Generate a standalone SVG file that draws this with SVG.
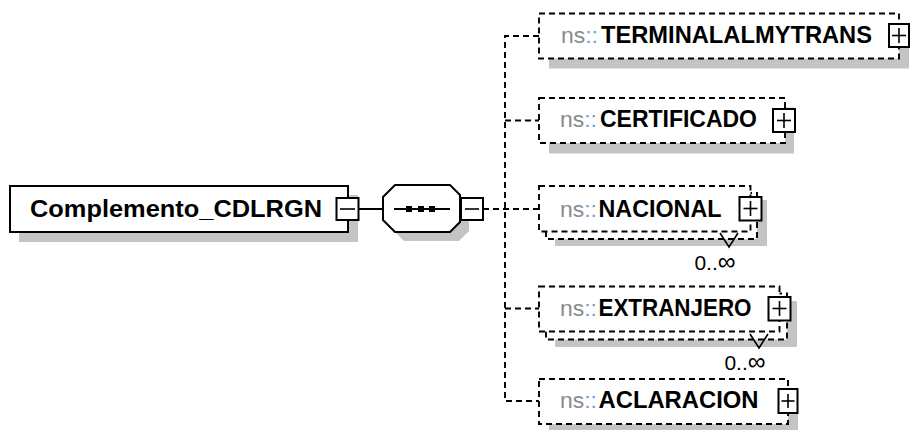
<svg xmlns="http://www.w3.org/2000/svg" width="914" height="430" viewBox="0 0 914 430">
<style>
.bg{fill:#fff}
.sh{fill:#c4c4c4}
.box{fill:#fff;stroke:#000;stroke-width:2}
.dbox{fill:#fff;stroke:#000;stroke-width:1.9;stroke-dasharray:6 4}
.btn{fill:#fff;stroke:#000;stroke-width:2}
.conn{fill:none;stroke:#000;stroke-width:1.9;stroke-dasharray:6 4}
.solid{fill:none;stroke:#000;stroke-width:2}
.thin{fill:none;stroke:#000;stroke-width:1.6}
.ns{font-family:"Liberation Sans",Arial,sans-serif;font-size:22px;fill:#8a8a8a}
.col{fill:#6f9fdc}
.nm{font-family:"Liberation Sans",Arial,sans-serif;font-size:23px;font-weight:bold;fill:#000}
.root{font-family:"Liberation Sans",Arial,sans-serif;font-size:24px;font-weight:bold;fill:#000}
.occ{font-family:"Liberation Sans",Arial,sans-serif;font-size:21px;fill:#000}
.inf{font-size:25px}
</style>
<rect class="bg" x="0" y="0" width="914" height="430"/>

<g id="connectors">
  <line class="solid" x1="358" y1="209" x2="383" y2="209"/>
  <line class="conn" x1="483" y1="209" x2="539" y2="209"/>
  <path class="conn" d="M539 36 H505 V401 H539"/>
  <line class="conn" x1="505" y1="120.5" x2="539" y2="120.5"/>
  <line class="conn" x1="505" y1="308.5" x2="539" y2="308.5"/>
</g>

<g id="root">
  <rect class="sh" x="19" y="195" width="339" height="47"/>
  <rect class="box" x="10" y="186" width="338" height="46"/>
  <text class="root" x="30" y="217" textLength="292" lengthAdjust="spacingAndGlyphs">Complemento_CDLRGN</text>
  <rect class="btn" x="336.5" y="198" width="22" height="22"/>
  <line class="thin" x1="340" y1="209" x2="355" y2="209"/>
</g>

<g id="sequence">
  <polygon class="sh" points="404,194 459,194 469,204 469,231 459,241 404,241 392,229 392,206"/>
  <polygon class="box" points="395,185 450,185 460,195 460,222 450,232 395,232 383,220 383,197"/>
  <line class="solid" x1="394" y1="209" x2="450" y2="209"/>
  <rect x="406" y="206" width="6" height="6" fill="#000"/>
  <rect x="418" y="206" width="6" height="6" fill="#000"/>
  <rect x="429" y="206" width="6" height="6" fill="#000"/>
  <rect class="btn" x="461" y="198" width="22" height="22"/>
  <line class="thin" x1="465" y1="209" x2="479" y2="209"/>
</g>

<g id="TERMINALALMYTRANS">
  <rect class="sh" x="549" y="23.5" width="360" height="45"/>
  <rect class="dbox" x="539" y="13.5" width="360" height="45"/>
  <text class="ns" x="561" y="43" textLength="37" lengthAdjust="spacingAndGlyphs">ns<tspan class="col">::</tspan></text>
  <text class="nm" x="601" y="43" textLength="271" lengthAdjust="spacingAndGlyphs">TERMINALALMYTRANS</text>
  <rect class="btn" x="889" y="24" width="20" height="23"/>
  <line class="thin" x1="892" y1="35.5" x2="906" y2="35.5"/>
  <line class="thin" x1="899" y1="28" x2="899" y2="43"/>
</g>

<g id="CERTIFICADO">
  <rect class="sh" x="549" y="107.5" width="245" height="46"/>
  <rect class="dbox" x="539" y="98" width="246" height="45"/>
  <text class="ns" x="560" y="127" textLength="37" lengthAdjust="spacingAndGlyphs">ns<tspan class="col">::</tspan></text>
  <text class="nm" x="600" y="127" textLength="157" lengthAdjust="spacingAndGlyphs">CERTIFICADO</text>
  <rect class="btn" x="773" y="109" width="22" height="23"/>
  <line class="thin" x1="777" y1="120.5" x2="791" y2="120.5"/>
  <line class="thin" x1="784" y1="113" x2="784" y2="128"/>
</g>

<g id="NACIONAL">
  <rect class="sh" x="555" y="200" width="212" height="46"/>
  <rect class="dbox" x="546" y="193" width="211" height="46"/>
  <rect class="dbox" x="539" y="186" width="211.5" height="45.5"/>
  <polyline class="thin" points="720,233 729,247 738,233"/>
  <text class="ns" x="560" y="216.5" textLength="37" lengthAdjust="spacingAndGlyphs">ns<tspan class="col">::</tspan></text>
  <text class="nm" x="598.5" y="216.5" textLength="123" lengthAdjust="spacingAndGlyphs">NACIONAL</text>
  <rect class="btn" x="739.5" y="197" width="22" height="23.5"/>
  <line class="thin" x1="743.5" y1="208.5" x2="757.5" y2="208.5"/>
  <line class="thin" x1="750.5" y1="201" x2="750.5" y2="216"/>
  <text class="occ" x="715" y="270" text-anchor="middle">0..<tspan class="inf">∞</tspan></text>
</g>

<g id="EXTRANJERO">
  <rect class="sh" x="555" y="301" width="242" height="46"/>
  <rect class="dbox" x="546" y="293.5" width="241" height="46"/>
  <rect class="dbox" x="539" y="286.5" width="240.5" height="45"/>
  <polyline class="thin" points="750,334 759,348 768,334"/>
  <text class="ns" x="560" y="315.5" textLength="37" lengthAdjust="spacingAndGlyphs">ns<tspan class="col">::</tspan></text>
  <text class="nm" x="598.5" y="315.5" textLength="153" lengthAdjust="spacingAndGlyphs">EXTRANJERO</text>
  <rect class="btn" x="768.5" y="297" width="22" height="23.5"/>
  <line class="thin" x1="772.5" y1="308.5" x2="786.5" y2="308.5"/>
  <line class="thin" x1="779.5" y1="301" x2="779.5" y2="316"/>
  <text class="occ" x="745" y="370" text-anchor="middle">0..<tspan class="inf">∞</tspan></text>
</g>

<g id="ACLARACION">
  <rect class="sh" x="549" y="388.5" width="249" height="45"/>
  <rect class="dbox" x="539" y="379" width="249" height="45"/>
  <text class="ns" x="560" y="408" textLength="37" lengthAdjust="spacingAndGlyphs">ns<tspan class="col">::</tspan></text>
  <text class="nm" x="598.5" y="408" textLength="160" lengthAdjust="spacingAndGlyphs">ACLARACION</text>
  <rect class="btn" x="778.5" y="389" width="19" height="24"/>
  <line class="thin" x1="781.5" y1="401" x2="794.5" y2="401"/>
  <line class="thin" x1="788" y1="394" x2="788" y2="408"/>
</g>
</svg>
